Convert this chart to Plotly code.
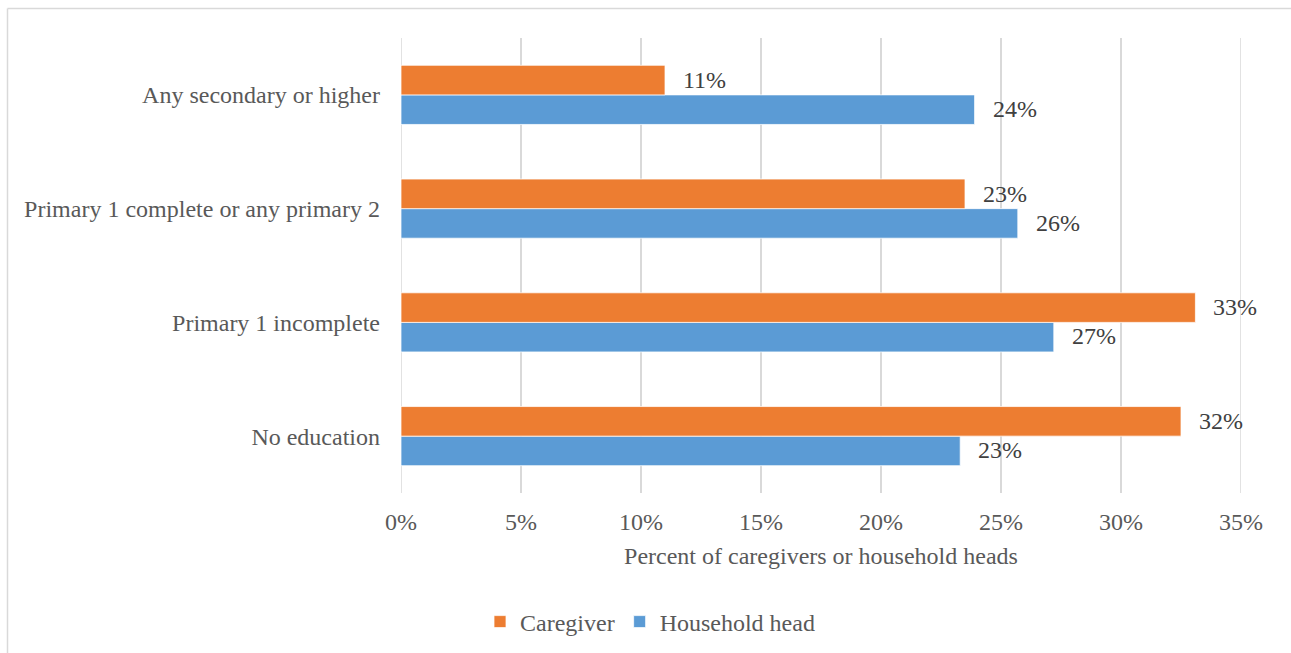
import plotly.graph_objects as go

categories = ["No education", "Primary 1 incomplete",
              "Primary 1 complete or any primary 2", "Any secondary or higher"]
caregiver = [32.5, 33.1, 23.5, 11.0]
household_head = [23.3, 27.2, 25.7, 23.9]
caregiver_labels = ["32%", "33%", "23%", "11%"]
household_labels = ["23%", "27%", "26%", "24%"]
x_ticks = [0, 5, 10, 15, 20, 25, 30, 35]
x_tick_labels = ["0%", "5%", "10%", "15%", "20%", "25%", "30%", "35%"]

ORANGE = "#ED7D31"
BLUE = "#5B9BD5"
GRID = "#d9d9d9"
FONT = "Liberation Serif"
FS = 24

fig = go.Figure()
fig.add_trace(go.Bar(y=categories, x=household_head, orientation="h", name="Household head",
                     marker=dict(color=BLUE, line=dict(color="white", width=0.75)),
                     hoverinfo="skip"))
fig.add_trace(go.Bar(y=categories, x=caregiver, orientation="h", name="Caregiver",
                     marker=dict(color=ORANGE, line=dict(color="white", width=0.75)),
                     hoverinfo="skip"))

annotations = []
for c, v, t in zip(categories, caregiver, caregiver_labels):
    annotations.append(dict(x=v, y=c, text=t, showarrow=False, xanchor="left", yanchor="middle",
                            xshift=16, yshift=15, font=dict(family=FONT, size=FS, color="#404040")))
for c, v, t in zip(categories, household_head, household_labels):
    annotations.append(dict(x=v, y=c, text=t, showarrow=False, xanchor="left", yanchor="middle",
                            xshift=16, yshift=-14, font=dict(family=FONT, size=FS, color="#404040")))

# border of chart area (pixel positions converted to paper coords)
L, R, T, B = 401, 50, 38, 160
W, H = 1291 - L - R, 653 - T - B
def px_x(p): return (p - L) / W
def px_y(p): return (653 - B - p) / H

shapes = [
    dict(type="line", xref="paper", yref="paper", x0=px_x(7.5), x1=px_x(1300), y0=px_y(8.5), y1=px_y(8.5),
         line=dict(color=GRID, width=1.5)),
    dict(type="line", xref="paper", yref="paper", x0=px_x(7.5), x1=px_x(7.5), y0=px_y(8.5), y1=px_y(660),
         line=dict(color=GRID, width=1.5)),
]
# edge gridlines (0% and 35%) that plotly omits at the range boundaries
for xv in (x_ticks[0], x_ticks[-1]):
    shapes.append(dict(type="line", xref="x", yref="paper", x0=xv, x1=xv, y0=0, y1=1,
                       layer="below", line=dict(color=GRID, width=1.5)))

fig.update_layout(
    width=1291, height=653,
    margin=dict(l=L, r=R, t=T, b=B, autoexpand=False),
    paper_bgcolor="white", plot_bgcolor="white",
    barmode="group", bargap=0.48, bargroupgap=0,
    font=dict(family=FONT, size=FS, color="#595959"),
    xaxis=dict(range=[0, 35], tickvals=x_ticks, ticktext=x_tick_labels, automargin=False,
               showgrid=True, gridcolor=GRID, gridwidth=1.5, zeroline=False,
               showline=False, ticks="", ticklabelstandoff=12,
               title=dict(text="Percent of caregivers or household heads", standoff=13,
                          font=dict(family=FONT, size=FS, color="#595959"))),
    yaxis=dict(showgrid=False, zeroline=False, showline=False, ticks="", automargin=False,
               ticklabelstandoff=20, categoryorder="array", categoryarray=categories),
    legend=dict(orientation="h", x=px_x(650), y=px_y(622), xanchor="center", yanchor="middle",
                traceorder="reversed", font=dict(family=FONT, size=FS, color="#595959"),
                itemwidth=30),
    annotations=annotations, shapes=shapes,
    showlegend=True,
)

fig.write_html("out.html")
